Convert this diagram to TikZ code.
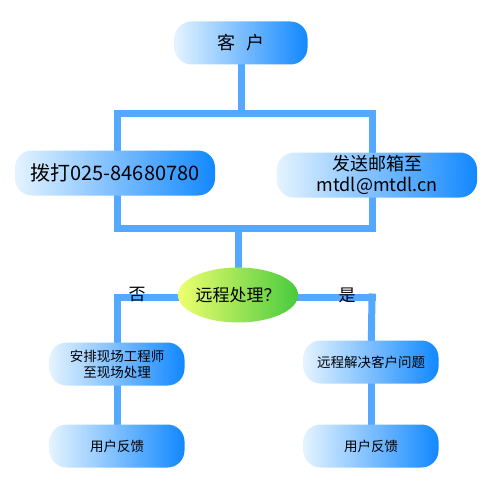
\documentclass[tikz,border=0pt]{standalone}
\usepackage{fontspec}
\setmainfont{Noto Sans CJK SC}
\usepackage{tikz}
\usetikzlibrary{shapes.geometric, backgrounds}

\definecolor{boxlight}{RGB}{228,243,255}
\definecolor{boxdark}{RGB}{18,136,255}
\definecolor{pipeblue}{RGB}{85,168,255}
\definecolor{decyellow}{RGB}{238,255,110}
\definecolor{decgreen}{RGB}{72,202,62}

\begin{document}
\begin{tikzpicture}[
  x=1pt, y=-1pt,
  kbox/.style={rounded corners=17pt, left color=boxlight, right color=boxdark, align=center, inner sep=0pt},
  decide/.style={ellipse, left color=decyellow, right color=decgreen, minimum width=110pt, minimum height=55pt, inner sep=0pt, font=\fontsize{17}{17}\selectfont},
  pipe/.style={line width=7pt, draw=pipeblue, line cap=rect},
  lbl/.style={font=\fontsize{17}{17}\selectfont}
]
  \useasboundingbox (0,0) rectangle (487,487);

  \node[kbox, minimum width=133pt, minimum height=43pt, font=\fontsize{18}{18}\selectfont] (client) at (241,43) {客\hspace{12pt}户};
  \node[kbox, minimum width=200pt, minimum height=45pt, font=\fontsize{20}{20}\selectfont] (phone) at (115,173) {拨打025-84680780};
  \node[kbox, minimum width=200pt, minimum height=45pt, font=\fontsize{18}{21}\selectfont] (mail) at (377,175) {发送邮箱至\\mtdl@mtdl.cn};
  \node[decide] (remote) at (238,295) {远程处理？};
  \node[kbox, minimum width=135pt, minimum height=43pt, font=\fontsize{13.5}{16}\selectfont] (onsite) at (117,364) {安排现场工程师\\至现场处理};
  \node[kbox, minimum width=135pt, minimum height=43pt, font=\fontsize{13.5}{16}\selectfont] (solve) at (371,362) {远程解决客户问题};
  \node[kbox, minimum width=135pt, minimum height=43pt, font=\fontsize{13.5}{16}\selectfont] (fbleft) at (117,446) {用户反馈};
  \node[kbox, minimum width=135pt, minimum height=43pt, font=\fontsize{13.5}{16}\selectfont] (fbright) at (371,446) {用户反馈};

  \node[lbl] (no) at (137,295) {否};
  \node[lbl] (yes) at (347,295) {是};

  % pipe corners
  \coordinate (tl) at (117,113);
  \coordinate (tr) at (372,113);
  \coordinate (bl) at (117,228);
  \coordinate (br) at (372,228);
  \coordinate (ml) at (117,297);
  \coordinate (mr) at (372,297);

  \begin{scope}[on background layer]
    \draw[pipe] (client) -- (client |- tl);
    \draw[pipe] (tl) -- (tr);
    \draw[pipe] (tl) -- (bl);
    \draw[pipe] (tr) -- (br);
    \draw[pipe] (bl) -- (br);
    \draw[pipe] (remote |- bl) -- (remote);
    \draw[pipe] (ml) -- (mr);
    \draw[pipe] (ml) -- (onsite);
    \draw[pipe] (onsite) -- (fbleft);
    \draw[pipe] (mr) -- (solve);
    \draw[pipe] (solve) -- (fbright);
  \end{scope}
\end{tikzpicture}
\end{document}
